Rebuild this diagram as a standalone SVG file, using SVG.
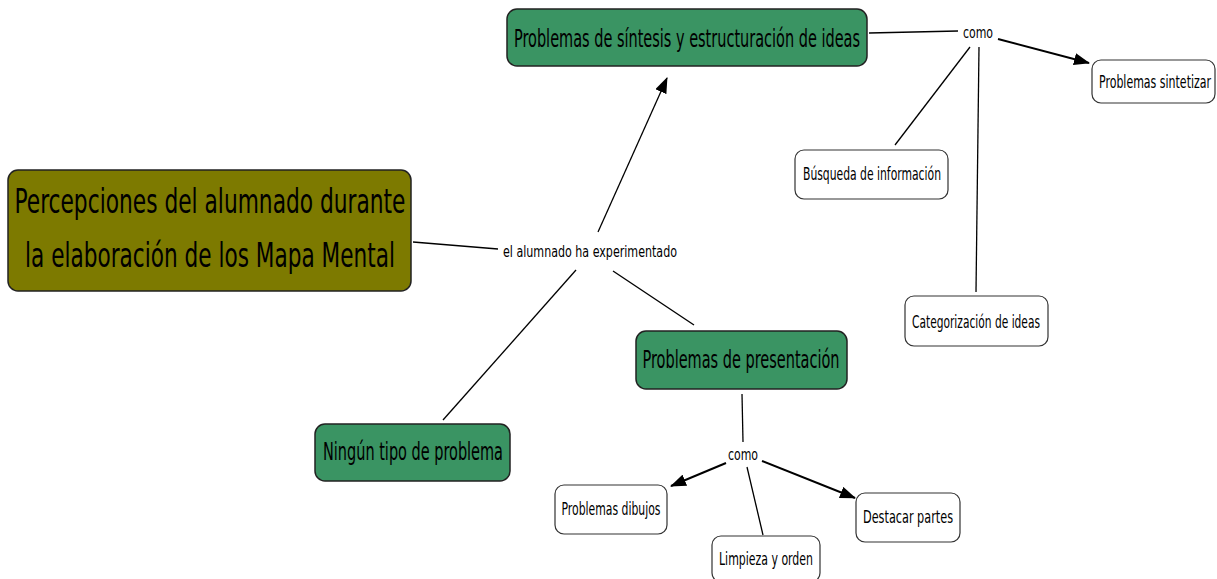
<svg xmlns="http://www.w3.org/2000/svg" width="1217" height="579" viewBox="0 0 1217 579">
<defs>
<marker id="arr" viewBox="0 0 16 12" refX="15" refY="6" markerWidth="16" markerHeight="12" markerUnits="userSpaceOnUse" orient="auto">
<path d="M0,0 L16,6 L0,12 z" fill="#000"/>
</marker>
<style>
text{font-family:"DejaVu Sans Condensed","DejaVu Sans",sans-serif;fill:#000;text-anchor:middle}
.main{fill:#7d7a00;stroke:#222;stroke-width:1.5}
.green{fill:#3a9463;stroke:#222;stroke-width:1.5}
.white{fill:#fff;stroke:#333;stroke-width:1.2}
.c{stroke:#000;stroke-width:1.3;fill:none}
.ca{stroke:#000;stroke-width:2;fill:none;marker-end:url(#arr)}
.lbl{font-size:16px}
.sm{font-size:17px}
.md{font-size:24px}
</style>
</defs>
<rect width="1217" height="579" fill="#fff"/>
<g id="connectors">
<line class="c" x1="413" y1="242" x2="498" y2="249"/>
<line class="c" x1="598" y1="232" x2="667" y2="78" style="marker-end:url(#arr)"/>
<line class="c" x1="576" y1="270" x2="443" y2="420"/>
<line class="c" x1="613" y1="271" x2="694" y2="325"/>
<line class="c" x1="869" y1="33" x2="958" y2="31"/>
<line class="ca" x1="998" y1="39" x2="1089" y2="63"/>
<line class="c" x1="970" y1="47" x2="895" y2="145"/>
<line class="c" x1="979" y1="47" x2="976" y2="292"/>
<line class="c" x1="742" y1="394" x2="743" y2="442"/>
<line class="ca" x1="726" y1="463" x2="671" y2="486"/>
<line class="ca" x1="762" y1="461" x2="855" y2="498"/>
<line class="c" x1="747" y1="467" x2="763" y2="535"/>
</g>
<g id="label-experimentado"><text class="lbl" x="590" y="257" textLength="174" lengthAdjust="spacingAndGlyphs">el alumnado ha experimentado</text></g>
<g id="label-como1"><text class="lbl" x="978" y="38" textLength="30" lengthAdjust="spacingAndGlyphs">como</text></g>
<g id="label-como2"><text class="lbl" x="743" y="460" textLength="30" lengthAdjust="spacingAndGlyphs">como</text></g>
<g id="node-main">
<rect class="main" x="8" y="170" width="403" height="121" rx="10"/>
<text x="210" y="213" font-size="34" textLength="391" lengthAdjust="spacingAndGlyphs">Percepciones del alumnado durante</text>
<text x="210" y="267" font-size="34" textLength="370" lengthAdjust="spacingAndGlyphs">la elaboración de los Mapa Mental</text>
</g>
<g id="node-sintesis">
<rect class="green" x="507" y="9" width="360" height="57" rx="10"/>
<text x="687" y="47" font-size="25" textLength="346" lengthAdjust="spacingAndGlyphs">Problemas de síntesis y estructuración de ideas</text>
</g>
<g id="node-presentacion">
<rect class="green" x="636" y="331" width="211" height="58" rx="10"/>
<text class="md" x="741" y="368" textLength="197" lengthAdjust="spacingAndGlyphs">Problemas de presentación</text>
</g>
<g id="node-ningun">
<rect class="green" x="315" y="424" width="195" height="57" rx="10"/>
<text class="md" x="413" y="460" textLength="180" lengthAdjust="spacingAndGlyphs">Ningún tipo de problema</text>
</g>
<g id="node-sintetizar">
<rect class="white" x="1092" y="60" width="123" height="43" rx="9"/>
<text class="sm" x="1155" y="88" textLength="112" lengthAdjust="spacingAndGlyphs">Problemas sintetizar</text>
</g>
<g id="node-busqueda">
<rect class="white" x="795" y="150" width="153" height="49" rx="9"/>
<text class="sm" x="872" y="180" textLength="138" lengthAdjust="spacingAndGlyphs">Búsqueda de información</text>
</g>
<g id="node-categorizacion">
<rect class="white" x="905" y="296" width="143" height="50" rx="9"/>
<text class="sm" x="976" y="328" textLength="128" lengthAdjust="spacingAndGlyphs">Categorización de ideas</text>
</g>
<g id="node-dibujos">
<rect class="white" x="555" y="485" width="112" height="49" rx="9"/>
<text class="sm" x="611" y="515" textLength="99" lengthAdjust="spacingAndGlyphs">Problemas dibujos</text>
</g>
<g id="node-limpieza">
<rect class="white" x="712" y="536" width="108" height="46" rx="9"/>
<text class="sm" x="766" y="565" textLength="94" lengthAdjust="spacingAndGlyphs">Limpieza y orden</text>
</g>
<g id="node-destacar">
<rect class="white" x="856" y="493" width="104" height="49" rx="9"/>
<text class="sm" x="908" y="523" textLength="90" lengthAdjust="spacingAndGlyphs">Destacar partes</text>
</g>
</svg>
